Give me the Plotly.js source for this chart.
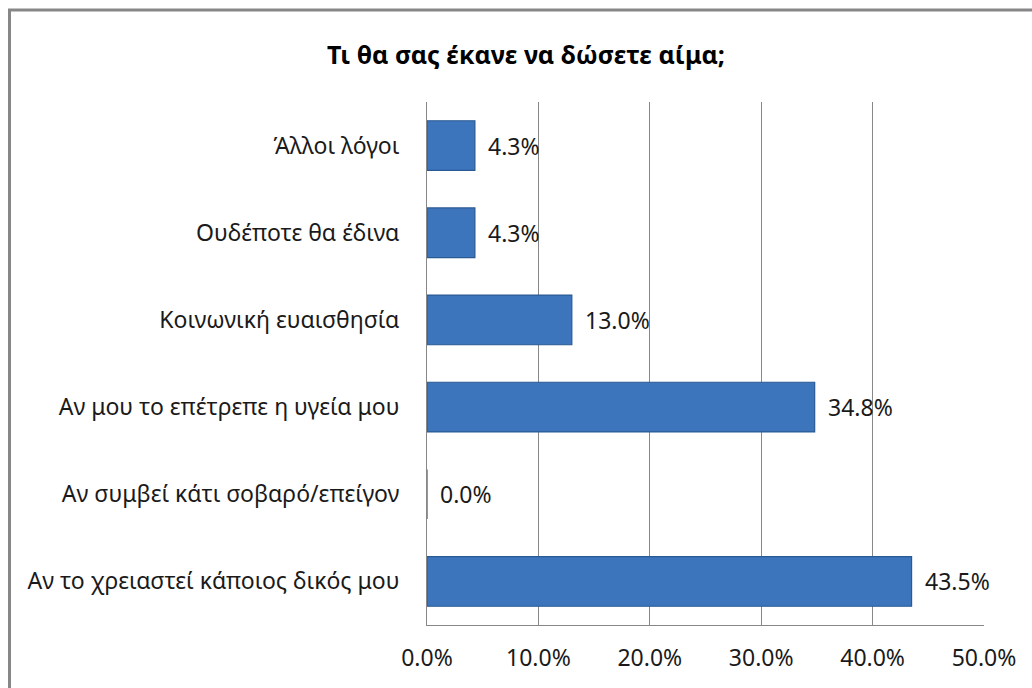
<!DOCTYPE html>
<html>
<head>
<meta charset="utf-8">
<script src="https://cdn.plot.ly/plotly-3.0.1.min.js"></script>
<style>
  html, body { margin: 0; padding: 0; background: #ffffff; }
  #chart { width: 1032px; height: 688px; }
</style>
</head>
<body>
<div id="chart"></div>
<script>
// Data (top-to-bottom order as shown in the chart)
const categories = [
  "Άλλοι λόγοι",
  "Ουδέποτε θα έδινα",
  "Κοινωνική ευαισθησία",
  "Αν μου το επέτρεπε η υγεία μου",
  "Αν συμβεί κάτι σοβαρό/επείγον",
  "Αν το χρειαστεί κάποιος δικός μου"
];
const values = [4.3, 4.3, 13.0, 34.8, 0.0, 43.5];
const tickValues = [0, 10, 20, 30, 40, 50];
const tickLabels = ["0.0%", "10.0%", "20.0%", "30.0%", "40.0%", "50.0%"];
const chartTitle = "Τι θα σας έκανε να δώσετε αίμα;";

const FONT = "'Noto Sans', 'Open Sans', 'DejaVu Sans', sans-serif";
const TXT = "#1a1a1a";

const trace = {
  type: "bar",
  orientation: "h",
  y: categories,
  x: values,
  width: 0.57,
  marker: {
    color: "#3C75BC",
    line: { color: "#2A5A93", width: 1.2 }
  },
  hoverinfo: "skip"
};

const annotations = categories.map((c, i) => ({
  x: values[i],
  y: c,
  xref: "x",
  yref: "y",
  text: values[i].toFixed(1) + "%",
  showarrow: false,
  xanchor: "left",
  yanchor: "middle",
  xshift: 11,
  font: { family: FONT, size: 23, color: TXT }
}));

// plot area in pixels: x 427..984, y 102..625
const L = 427, R = 984, T = 102, B = 625;
const PW = R - L, PH = B - T;
const px = v => (v - L) / PW;
const py = v => (B - v) / PH;

const layout = {
  width: 1032,
  height: 688,
  margin: { l: L, r: 1032 - R, t: T, b: 688 - B, pad: 0 },
  paper_bgcolor: "#ffffff",
  plot_bgcolor: "#ffffff",
  showlegend: false,
  title: {
    text: "<b>" + chartTitle + "</b>",
    font: { family: FONT, size: 25, color: "#000000" },
    x: 526 / 1032,
    xanchor: "center",
    xref: "container",
    y: 1 - 55 / 688,
    yanchor: "middle",
    yref: "container"
  },
  xaxis: {
    range: [0, 50],
    tickvals: tickValues,
    ticktext: tickLabels,
    showgrid: true,
    gridcolor: "#878787",
    gridwidth: 1,
    showline: true,
    linecolor: "#878787",
    linewidth: 1,
    zeroline: false,
    ticks: "outside",
    ticklen: 12,
    tickcolor: "rgba(0,0,0,0)",
    tickfont: { family: FONT, size: 23, color: TXT },
    fixedrange: true
  },
  yaxis: {
    type: "category",
    autorange: "reversed",
    showgrid: false,
    showline: true,
    linecolor: "#878787",
    linewidth: 1,
    zeroline: false,
    ticks: "outside",
    ticklen: 22,
    tickcolor: "rgba(0,0,0,0)",
    tickfont: { family: FONT, size: 23, color: TXT },
    fixedrange: true
  },
  annotations: annotations,
  shapes: [
    {
      type: "line", xref: "paper", yref: "paper",
      x0: px(9.5), x1: px(9.5), y0: py(10), y1: py(700),
      line: { color: "#878787", width: 3 }, layer: "above"
    },
    {
      type: "line", xref: "paper", yref: "paper",
      x0: px(8), x1: px(1040), y0: py(10), y1: py(10),
      line: { color: "#878787", width: 3 }, layer: "above"
    }
  ]
};

Plotly.newPlot("chart", [trace], layout, { displayModeBar: false, staticPlot: true });
</script>
</body>
</html>
